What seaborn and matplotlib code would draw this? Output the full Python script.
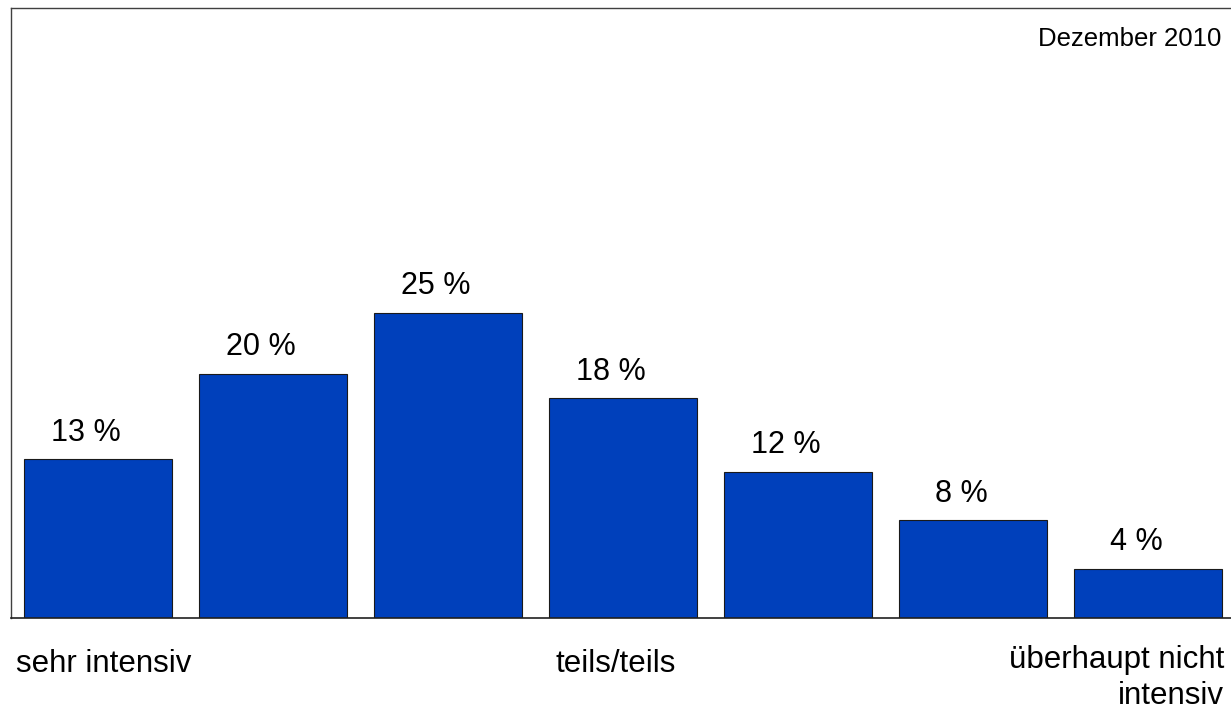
import seaborn as sns
import matplotlib.pyplot as plt
import matplotlib.transforms as mtrans
import pandas as pd

# data
categories = ['1', '2', '3', '4', '5', '6', '7']
values = [13, 20, 25, 18, 12, 8, 4]
value_labels = ['13 %', '20 %', '25 %', '18 %', '12 %', '8 %', '4 %']
scale_labels = {0: 'sehr intensiv', 3: 'teils/teils'}
last_label = 'überhaupt nicht\nintensiv'
note = 'Dezember 2010'

sns.set_style("white")
plt.rcParams['font.family'] = ['Liberation Sans', 'DejaVu Sans']
plt.rcParams['text.color'] = 'black'

df = pd.DataFrame({'cat': categories, 'val': values})

fig = plt.figure(figsize=(12.31, 7.11), dpi=100)
ax = fig.add_axes([0.0089, 0.1308, 0.9911, 0.8579])
sns.barplot(data=df, x='cat', y='val', color='#0040BB', saturation=1,
            width=0.846, edgecolor='#1a1a1a', linewidth=0.8, ax=ax)

# value labels (slightly left of bar centre, as in the original)
for i, (v, lab) in enumerate(zip(values, value_labels)):
    ax.annotate(lab, (i, v), xytext=(-8.6, 13.5), textcoords='offset points',
                ha='center', va='baseline', fontsize=22)

ax.set_xlim(-0.497, 6.474)
ax.set_ylim(0, 50)
ax.set_yticks([])
ax.set_xticks([])
ax.set_xlabel('')
ax.set_ylabel('')

# scale labels under the bars
trans = mtrans.blended_transform_factory(ax.transData, ax.transAxes)
shifts = {0: 4.3, 3: -5.0}
for pos, lab in scale_labels.items():
    ax.annotate(lab, (pos, -0.0885), xycoords=trans,
                xytext=(shifts[pos], 0), textcoords='offset points',
                ha='center', va='baseline', fontsize=22.5)
ax.text(0.9943, -0.141, last_label, transform=ax.transAxes,
        ha='right', va='baseline', multialignment='right', fontsize=22.5,
        linespacing=1.24)

ax.text(0.9918, 0.9377, note, transform=ax.transAxes, ha='right',
        va='baseline', fontsize=18.5)

for side in ['left', 'top']:
    ax.spines[side].set_color('#404040')
    ax.spines[side].set_linewidth(1.0)
ax.spines['right'].set_visible(False)
ax.spines['bottom'].set_color('#202020')
ax.spines['bottom'].set_linewidth(1.2)

fig.savefig('out.png', dpi=100)
